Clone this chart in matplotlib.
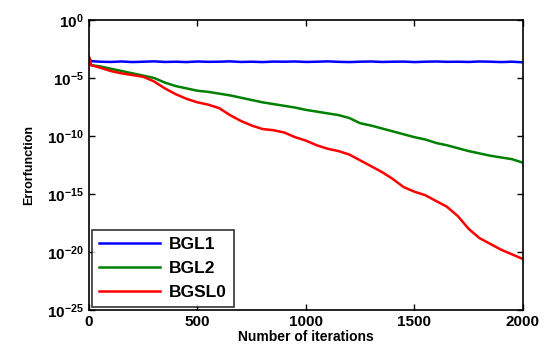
import numpy as np
import matplotlib.pyplot as plt

plt.rcParams['font.family'] = 'Liberation Sans'
plt.rcParams['font.weight'] = 'bold'
plt.rcParams['mathtext.fontset'] = 'custom'
plt.rcParams['mathtext.bf'] = 'Liberation Sans:bold'
plt.rcParams['mathtext.rm'] = 'Liberation Sans:bold'
plt.rcParams['mathtext.default'] = 'bf'

# iterations (log10 of error)
iters = [0, 10, 50, 100, 150, 200, 250, 300, 350, 400, 450, 500, 550, 600, 650, 700,
         750, 800, 850, 900, 950, 1000, 1050, 1100, 1150, 1200, 1250, 1300, 1350,
         1400, 1450, 1500, 1550, 1600, 1650, 1700, 1750, 1800, 1850, 1900, 1950, 2000]

bgl1 = [-3.25, -3.55, -3.6, -3.62, -3.58, -3.63, -3.6, -3.57, -3.62, -3.6, -3.63,
        -3.58, -3.61, -3.6, -3.57, -3.62, -3.6, -3.63, -3.59, -3.6, -3.58, -3.62,
        -3.6, -3.57, -3.61, -3.63, -3.6, -3.58, -3.62, -3.6, -3.59, -3.63, -3.6,
        -3.58, -3.61, -3.6, -3.62, -3.58, -3.6, -3.63, -3.6, -3.65]

bgl2 = [-3.2, -3.9, -4.0, -4.2, -4.4, -4.6, -4.8, -5.0, -5.4, -5.7, -5.9, -6.1,
        -6.2, -6.35, -6.5, -6.7, -6.9, -7.1, -7.25, -7.4, -7.55, -7.75, -7.9,
        -8.05, -8.2, -8.45, -8.9, -9.1, -9.35, -9.6, -9.85, -10.1, -10.3, -10.6,
        -10.8, -11.05, -11.3, -11.5, -11.7, -11.85, -12.0, -12.3]

bgsl0 = [-3.2, -3.9, -4.1, -4.4, -4.6, -4.75, -4.9, -5.3, -5.9, -6.4, -6.8, -7.1,
         -7.3, -7.6, -8.2, -8.7, -9.1, -9.4, -9.5, -9.7, -10.1, -10.4, -10.8,
         -11.1, -11.3, -11.6, -12.1, -12.6, -13.1, -13.7, -14.4, -14.8, -15.1,
         -15.6, -16.1, -16.9, -18.0, -18.8, -19.3, -19.8, -20.2, -20.6]

fig = plt.figure(figsize=(5.51, 3.56), dpi=100)
ax = fig.add_axes([0.1615, 0.129, 0.7875, 0.815])

x = np.array(iters)
ax.semilogy(x, 10.0 ** np.array(bgl1), color='#0000ff', lw=1.8, label='BGL1')
ax.semilogy(x, 10.0 ** np.array(bgl2), color='#008000', lw=1.8, label='BGL2')
ax.semilogy(x, 10.0 ** np.array(bgsl0), color='#ff0000', lw=1.8, label='BGSL0')

ax.set_xlim(0, 2000)
ax.set_ylim(1e-25, 1e0)
ax.set_xticks([0, 500, 1000, 1500, 2000])
ax.set_yticks([10.0 ** k for k in range(-25, 1, 5)])
ax.set_yticklabels(['$10^{%d}$' % k for k in range(-25, 1, 5)])
ax.minorticks_off()
ax.tick_params(direction='in', top=True, right=True, labelsize=11, length=4, width=1)
for s in ax.spines.values():
    s.set_linewidth(1.2)

ax.set_xlabel('Number of iterations', fontsize=10, fontweight='bold', labelpad=1)
ax.set_ylabel('Errorfunction', fontsize=9, fontweight='bold', labelpad=9)

leg = ax.legend(loc='lower left', fontsize=12.5, frameon=True, fancybox=False,
                edgecolor='black', borderaxespad=0.2, handlelength=3.5,
                labelspacing=0.5, borderpad=0.4, handletextpad=0.5)
leg.get_frame().set_linewidth(1.2)

fig.savefig('out.png', dpi=100)
